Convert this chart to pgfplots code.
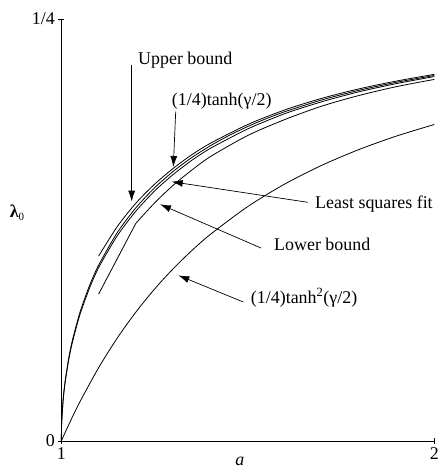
\documentclass[border=0pt]{standalone}
\usepackage{fontspec}
\setmainfont{Liberation Serif}
\usepackage{pgfplots}
\pgfplotsset{compat=1.18}
\usetikzlibrary{arrows.meta}

\newcommand{\lblfont}{\fontsize{18}{21}\selectfont}

% (1/4) tanh(gamma/2), with cosh(gamma/2) = a
\pgfplotstableread{
a      y
1.000  0.00000
1.001  0.01117
1.005  0.02491
1.010  0.03509
1.020  0.04926
1.030  0.05990
1.050  0.07623
1.075  0.09174
1.100  0.10415
1.150  0.12345
1.200  0.13819
1.250  0.15000
1.300  0.15974
1.350  0.16795
1.400  0.17496
1.450  0.18103
1.500  0.18634
1.550  0.19101
1.600  0.19516
1.700  0.20217
1.800  0.20787
1.900  0.21257
2.000  0.21651
}\tanhhalf

% (1/4) tanh^2(gamma/2)
\pgfplotstableread{
a      y
1.000  0.00000
1.025  0.01205
1.050  0.02324
1.100  0.04339
1.150  0.06096
1.200  0.07639
1.250  0.09000
1.300  0.10207
1.350  0.11283
1.400  0.12245
1.500  0.13889
1.600  0.15234
1.700  0.16349
1.800  0.17284
1.900  0.18075
2.000  0.18750
}\tanhsq

% upper bound
\pgfplotstableread{
a      y
1.100  0.1095
1.150  0.1270
1.200  0.1409
1.250  0.1521
1.300  0.1615
1.350  0.1696
1.400  0.1764
1.500  0.1875
1.600  0.1962
1.700  0.2031
1.800  0.2087
1.900  0.2133
2.000  0.2172
}\upperbd

% least squares fit
\pgfplotstableread{
a      y
1.000  0.0000
1.001  0.0108
1.005  0.0242
1.010  0.0342
1.020  0.0482
1.030  0.0587
1.050  0.0749
1.075  0.0902
1.100  0.1027
1.150  0.1216
1.200  0.1362
1.250  0.1481
1.300  0.1579
1.350  0.1663
1.400  0.1734
1.500  0.1849
1.600  0.1940
1.700  0.2011
1.800  0.2070
1.900  0.2118
2.000  0.2159
}\lsqfit

% lower bound: straight start, then a curved branch from a = 1.2
\pgfplotstableread{
a      y
1.100  0.0870
1.200  0.1290
}\lowerbdA
\pgfplotstableread{
a      y
1.200  0.1290
1.250  0.1410
1.300  0.1515
1.350  0.1605
1.400  0.1685
1.500  0.1810
1.600  0.1905
1.700  0.1985
1.800  0.2048
1.900  0.2100
2.000  0.2142
}\lowerbdB

\begin{document}
\begin{tikzpicture}[
  lbl/.style={font=\lblfont, inner sep=0pt, anchor=base west},
  pointer/.style={-{Latex[length=11bp,width=7bp]}, line width=0.7bp},
  curve/.style={black, line width=0.8bp, mark=none}]
\begin{axis}[
  scale only axis, width=373bp, height=422bp,
  xmin=1, xmax=2, ymin=0, ymax=0.25,
  axis lines=left, axis line style={-, line width=0.8bp},
  xtick={1,2}, xticklabels={1,2},
  ytick={0,0.25}, yticklabels={0,1/4},
  tick align=center, major tick length=6bp,
  tick style={line width=0.8bp, black},
  ticklabel style={font=\lblfont},
  clip=false,
]
\coordinate (O) at (rel axis cs:0,0);
\addplot[curve, smooth, tension=0.4] table[x=a, y=y] {\tanhhalf};
\addplot[curve, smooth] table[x=a, y=y] {\tanhsq};
\addplot[curve, smooth] table[x=a, y=y] {\upperbd};
\addplot[curve, smooth, tension=0.4] table[x=a, y=y] {\lsqfit};
\addplot[curve] table[x=a, y=y] {\lowerbdA};
\addplot[curve, smooth] table[x=a, y=y] {\lowerbdB};

\node[lbl] at (axis cs:1.2056,0.22275) {Upper bound};
\node[lbl] at (axis cs:1.296,0.19905) {(1/4)tanh(γ/2)};
\node[lbl] at (axis cs:1.6802,0.13803) {Least squares fit};
\node[lbl] at (axis cs:1.5702,0.11256) {Lower bound};
\node[lbl] at (axis cs:1.5078,0.08175) {(1/4)tanh\textsuperscript{2}(γ/2)};

\draw[pointer] (axis cs:1.1887,0.22275) -- (axis cs:1.1887,0.14177);
\draw[pointer] (axis cs:1.3067,0.19508) -- (axis cs:1.3003,0.16232);
\draw[pointer] (axis cs:1.6606,0.14141) -- (axis cs:1.2960,0.15361);
\draw[pointer] (axis cs:1.5354,0.11433) -- (axis cs:1.2646,0.14022);
\draw[pointer] (axis cs:1.4879,0.08234) -- (axis cs:1.3137,0.09813);

\node[font=\lblfont, inner sep=0pt] at (axis cs:0.8812,0.1351) {\textbf{λ}\raisebox{-0.35ex}{\fontsize{11}{12}\selectfont 0}};
\node[font=\lblfont\itshape, inner sep=0pt] at (axis cs:1.479,-0.0120) {a};
\end{axis}
\pgfresetboundingbox
\path[use as bounding box] ([shift={(-61.3bp,-29bp)}]O) rectangle ++(443bp,470bp);
\end{tikzpicture}
\end{document}
